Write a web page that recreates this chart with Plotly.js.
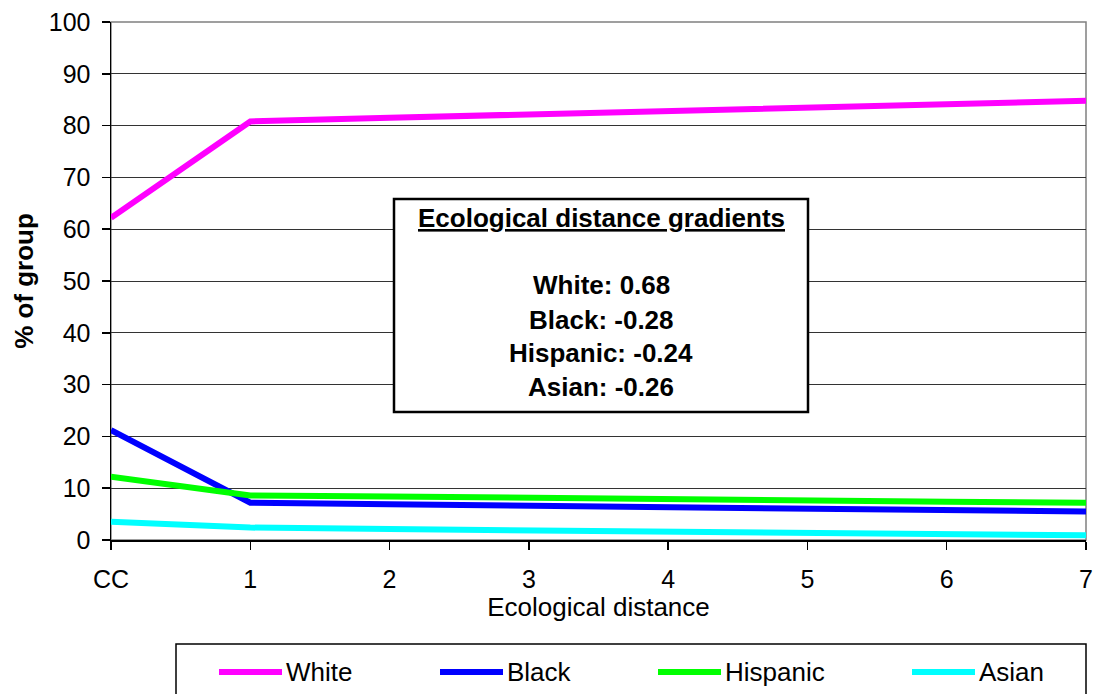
<!DOCTYPE html>
<html>
<head>
<meta charset="utf-8">
<script src="https://cdn.plot.ly/plotly-3.0.1.min.js"></script>
<style>html,body{margin:0;padding:0;background:#fff;}#chart{width:1096px;height:694px;}</style>
</head>
<body>
<div id="chart"></div>
<script>
const categories = ['CC', '1', '2', '3', '4', '5', '6', '7'];
const seriesNames = ['White', 'Black', 'Hispanic', 'Asian'];
const white = [62.2, 80.8, 81.5, 82.2, 82.8, 83.5, 84.2, 84.8];
const black = [21.2, 7.2, 6.9, 6.6, 6.4, 6.1, 5.8, 5.5];
const hispanic = [12.2, 8.6, 8.4, 8.1, 7.9, 7.6, 7.4, 7.2];
const asian = [3.5, 2.4, 2.1, 1.9, 1.6, 1.4, 1.1, 0.9];
const yTicks = [0, 10, 20, 30, 40, 50, 60, 70, 80, 90, 100];
const boxTitle = 'Ecological distance gradients';
const boxLines = ['White: 0.68', 'Black: -0.28', 'Hispanic: -0.24', 'Asian: -0.26'];

const colors = ['#FF00FF', '#0000FF', '#00FF00', '#00FFFF'];
const seriesData = [white, black, hispanic, asian];
const font = 'Liberation Sans, Arial, sans-serif';

// layout geometry (pixels) for converting to paper coords
const PL = 111, PR = 1086, PT = 22, PB = 540;
const px = x => (x - PL) / (PR - PL);
const py = y => (PB - y) / (PB - PT);

const traces = seriesData.map((vals, i) => ({
  type: 'scatter', mode: 'lines', x: categories, y: vals, name: seriesNames[i],
  line: {color: colors[i], width: 6}, showlegend: false
}));

// text box
const boxLineY = [285, 320, 353, 387];
const annotations = [{
  xref: 'paper', yref: 'paper', x: px(601), y: py(218), xanchor: 'center', yanchor: 'middle',
  text: '<b><u>' + boxTitle + '</u></b>', showarrow: false, font: {family: font, size: 26, color: '#000'}
}].concat(boxLines.map((t, i) => ({
  xref: 'paper', yref: 'paper', x: px(601), y: py(boxLineY[i]), xanchor: 'center', yanchor: 'middle',
  text: '<b>' + t + '</b>', showarrow: false, font: {family: font, size: 26, color: '#000'}
})));

// legend (drawn manually to match the reference's long sample lines)
const legSymX = [219, 440, 658, 912];
const legSymLen = 63;
const legY = 672;
const shapes = [
  {type: 'rect', xref: 'paper', yref: 'paper', x0: 0, x1: 1, y0: 0, y1: 1, line: {color: '#808080', width: 1.5}, layer: 'below'},
  {type: 'rect', xref: 'paper', yref: 'paper', x0: px(394), x1: px(808), y0: py(412), y1: py(199), fillcolor: '#fff', line: {color: '#000', width: 2.5}, layer: 'above'},
  {type: 'rect', xref: 'paper', yref: 'paper', x0: px(176), x1: px(1086), y0: py(644), y1: py(700), line: {color: '#000', width: 1.5}}
];
seriesNames.forEach((n, i) => {
  shapes.push({type: 'line', xref: 'paper', yref: 'paper', x0: px(legSymX[i]), x1: px(legSymX[i] + legSymLen),
    y0: py(legY), y1: py(legY), line: {color: colors[i], width: 6}});
  annotations.push({xref: 'paper', yref: 'paper', x: px(legSymX[i] + legSymLen + 2), y: py(legY),
    xanchor: 'left', yanchor: 'middle', text: n, showarrow: false, font: {family: font, size: 26, color: '#000'}});
});

const layout = {
  width: 1096, height: 694,
  margin: {l: PL, r: 1096 - PR, t: PT, b: 694 - PB, autoexpand: false},
  paper_bgcolor: '#fff', plot_bgcolor: '#fff',
  font: {family: font, size: 25, color: '#000'},
  showlegend: false,
  xaxis: {
    type: 'category', range: [0, 7], showgrid: false, zeroline: false,
    showline: true, linecolor: '#000', linewidth: 1.5,
    ticks: 'outside', ticklen: 8, tickcolor: '#000', tickwidth: 1.5, ticklabelstandoff: 8,
    tickfont: {family: font, size: 25, color: '#000'},
    title: {text: 'Ecological distance', font: {family: font, size: 26, color: '#000'}, standoff: 6}
  },
  yaxis: {
    range: [0, 100], tickvals: yTicks, showgrid: true, gridcolor: '#333', gridwidth: 1,
    zeroline: false, showline: true, linecolor: '#000', linewidth: 1.5,
    ticks: 'outside', ticklen: 8, tickcolor: '#000', tickwidth: 1.5, ticklabelstandoff: 6,
    tickfont: {family: font, size: 25, color: '#000'},
    title: {text: '<b>% of group</b>', font: {family: font, size: 26, color: '#000'}, standoff: 7}
  },
  shapes: shapes,
  annotations: annotations
};

Plotly.newPlot('chart', traces, layout, {displayModeBar: false, staticPlot: true});
</script>
</body>
</html>
